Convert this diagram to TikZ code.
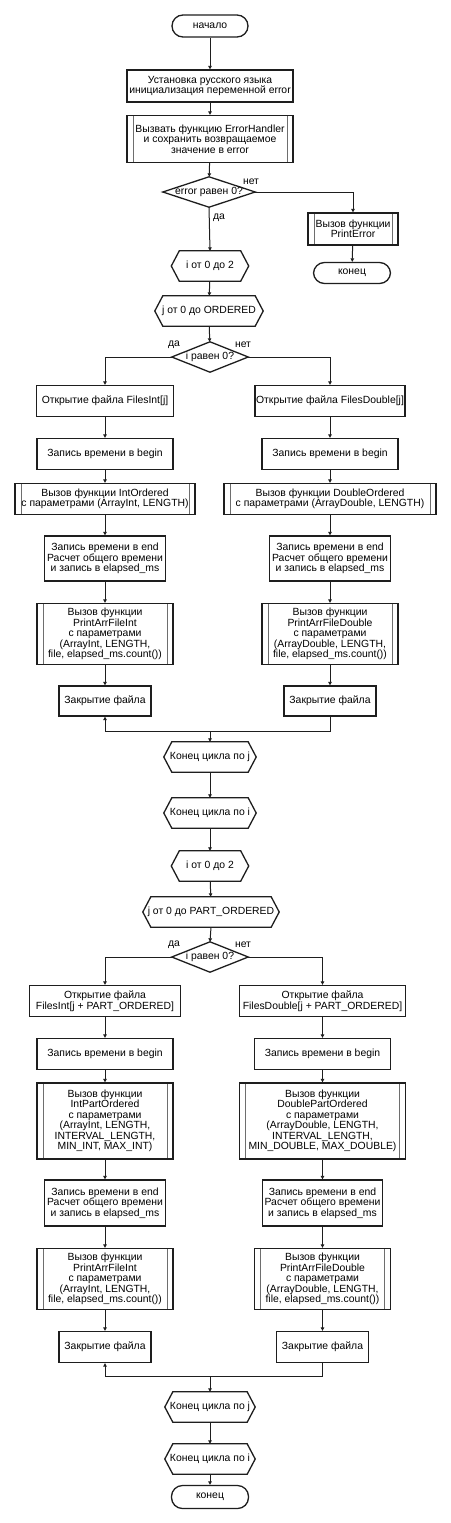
\documentclass[tikz,border=0pt]{standalone}
\usepackage{fontspec}
\setmainfont{Liberation Sans}
\usetikzlibrary{arrows.meta}
\definecolor{FrameGray}{RGB}{30, 30, 30}
\definecolor{InnerGray}{RGB}{110, 110, 110}

% loop limit box: #1 name #2 where #3 width #4 text
\def\hexbox#1#2#3#4{
  \node[boxtext, minimum width=#3, minimum height=30] (#1) at (#2) {#4};
  \draw[frame] ([xshift=8pt]#1.north west) -- ([xshift=-8pt]#1.north east) -- (#1.east) -- ([xshift=-8pt]#1.south east) -- ([xshift=8pt]#1.south west) -- (#1.west) -- cycle;
}
% decision: #1 name #2 where #3 width #4 text
\def\decide#1#2#3#4{
  \node[boxtext, minimum width=#3, minimum height=30] (#1) at (#2) {#4};
  \draw[frame] (#1.north) -- (#1.east) -- (#1.south) -- (#1.west) -- cycle;
}

\begin{document}
\begin{tikzpicture}[x=1pt, y=1pt,
  boxtext/.style={inner sep=0pt, align=center, font=\fontsize{10.4}{10.5}\selectfont},
  frame/.style={draw=FrameGray, line width=1.3pt},
  proc/.style={boxtext, frame, fill=white},
  sub/.style={proc, path picture={
    \draw[InnerGray, line width=0.9pt] ([xshift=6pt]path picture bounding box.north west) -- ([xshift=6pt]path picture bounding box.south west);
    \draw[InnerGray, line width=0.9pt] ([xshift=-6pt]path picture bounding box.north east) -- ([xshift=-6pt]path picture bounding box.south east);}},
  term/.style={proc, rounded corners=11pt},
  line/.style={FrameGray, line width=1pt},
  arr/.style={line, -{Triangle[length=3.5pt, width=3.5pt]}},
  lbl/.style={inner sep=0pt, font=\fontsize{10.4}{10.5}\selectfont}]

\useasboundingbox[fill=white] (0,0) rectangle (450,-1523);

% start and error check
\node[term, minimum width=76, minimum height=22] (start) at (210,-26) {начало};
\node[proc, minimum width=166, minimum height=32] (init) at (210,-86) {Установка русского языка\\инициализация переменной error};
\node[sub, minimum width=166, minimum height=47] (handler) at (210,-139) {Вызвать функцию ErrorHandler\\и сохранить возвращаемое\\значение в error};
\decide{errchk}{209,-192}{92}{error равен 0?}
\node[sub, minimum width=90, minimum height=32] (printerr) at (353,-229) {Вызов функции\\PrintError};
\node[term, minimum width=77, minimum height=21] (stop1) at (352,-273) {конец};

% first pair of loops
\hexbox{iloop1}{210,-266}{77}{i от 0 до 2}
\hexbox{jloop1}{209,-311}{108}{j от 0 до ORDERED}
\decide{ichk1}{210,-357}{76}{i равен 0?}

% ordered, left branch
\node[proc, minimum width=137, minimum height=31] (openL1) at (105,-401) {Открытие файла FilesInt[j]};
\node[proc, minimum width=136, minimum height=31] (beginL1) at (105,-454) {Запись времени в begin};
\node[sub, minimum width=180, minimum height=31] (sortL1) at (105,-499) {Вызов функции IntOrdered\\с параметрами (ArrayInt, LENGTH)};
\node[proc, minimum width=121, minimum height=45] (endL1) at (105,-558.5) {Запись времени в end\\Расчет общего времени\\и запись в elapsed\_ms};
\node[sub, minimum width=136, minimum height=61] (printL1) at (105,-634) {Вызов функции\\PrintArrFileInt\\с параметрами\\(ArrayInt, LENGTH,\\file, elapsed\_ms.count())};
\node[proc, minimum width=92, minimum height=30] (closeL1) at (105,-701) {Закрытие файла};

% ordered, right branch
\node[proc, minimum width=150, minimum height=31] (openR1) at (330,-401) {Открытие файла FilesDouble[j]};
\node[proc, minimum width=136, minimum height=31] (beginR1) at (330,-454) {Запись времени в begin};
\node[sub, minimum width=212, minimum height=31] (sortR1) at (330,-499) {Вызов функции DoubleOrdered\\с параметрами (ArrayDouble, LENGTH)};
\node[proc, minimum width=121, minimum height=45] (endR1) at (330,-558.5) {Запись времени в end\\Расчет общего времени\\и запись в elapsed\_ms};
\node[sub, minimum width=136, minimum height=61] (printR1) at (330,-634) {Вызов функции\\PrintArrFileDouble\\с параметрами\\(ArrayDouble, LENGTH,\\file, elapsed\_ms.count())};
\node[proc, minimum width=92, minimum height=30] (closeR1) at (330,-701) {Закрытие файла};

\coordinate (merge1) at (210,-731.5);
\hexbox{jend1}{210,-757}{92}{Конец цикла по j}
\hexbox{iend1}{210,-813}{92}{Конец цикла по i}

% second pair of loops
\hexbox{iloop2}{210,-866}{77}{i от 0 до 2}
\hexbox{jloop2}{211,-912}{136}{j от 0 до PART\_ORDERED}
\decide{ichk2}{210,-957}{76}{i равен 0?}

% part ordered, left branch
\node[proc, minimum width=151, minimum height=31] (openL2) at (105,-1001) {Открытие файла\\FilesInt[j + PART\_ORDERED]};
\node[proc, minimum width=136, minimum height=31] (beginL2) at (105,-1054) {Запись времени в begin};
\node[sub, minimum width=136, minimum height=76] (sortL2) at (105,-1121) {Вызов функции\\IntPartOrdered\\с параметрами\\(ArrayInt, LENGTH,\\INTERVAL\_LENGTH,\\MIN\_INT, MAX\_INT)};
\node[proc, minimum width=121, minimum height=46] (endL2) at (105,-1203) {Запись времени в end\\Расчет общего времени\\и запись в elapsed\_ms};
\node[sub, minimum width=136, minimum height=61] (printL2) at (105,-1279) {Вызов функции\\PrintArrFileInt\\с параметрами\\(ArrayInt, LENGTH,\\file, elapsed\_ms.count())};
\node[proc, minimum width=92, minimum height=31] (closeL2) at (105,-1347) {Закрытие файла};

% part ordered, right branch
\node[proc, minimum width=166, minimum height=31] (openR2) at (322.5,-1001) {Открытие файла\\FilesDouble[j + PART\_ORDERED]};
\node[proc, minimum width=136, minimum height=31] (beginR2) at (322.5,-1054) {Запись времени в begin};
\node[sub, minimum width=166, minimum height=76] (sortR2) at (322.5,-1121) {Вызов функции\\DoublePartOrdered\\с параметрами\\(ArrayDouble, LENGTH,\\INTERVAL\_LENGTH,\\MIN\_DOUBLE, MAX\_DOUBLE)};
\node[proc, minimum width=120, minimum height=46] (endR2) at (322.5,-1203) {Запись времени в end\\Расчет общего времени\\и запись в elapsed\_ms};
\node[sub, minimum width=136, minimum height=61] (printR2) at (322.5,-1279) {Вызов функции\\PrintArrFileDouble\\с параметрами\\(ArrayDouble, LENGTH,\\file, elapsed\_ms.count())};
\node[proc, minimum width=92, minimum height=31] (closeR2) at (322.5,-1347) {Закрытие файла};

\coordinate (merge2) at (210,-1376);
\hexbox{jend2}{210,-1407}{90}{Конец цикла по j}
\hexbox{iend2}{210,-1459}{90}{Конец цикла по i}
\node[term, minimum width=77, minimum height=23] (stop2) at (210,-1497) {конец};

% branch labels
\node[lbl] (no0) at (251,-181.5) {нет};
\node[lbl] (yes0) at (219,-218) {да};
\node[lbl] (yes1) at (174,-345) {да};
\node[lbl] (no1) at (243,-345) {нет};
\node[lbl] (yes2) at (174,-945) {да};
\node[lbl] (no2) at (243,-945) {нет};

% connectors
\draw[arr] (start) -- (init);
\draw[arr] (init) -- (handler);
\draw[arr] (handler) -- (errchk);
\draw[arr] (errchk.south) -- (iloop1.north);
\draw[arr] (errchk.east) -| (printerr.north);
\draw[arr] (printerr) -- (stop1);
\draw[arr] (iloop1) -- (jloop1);
\draw[arr] (jloop1) -- (ichk1);
\draw[arr] (ichk1.west) -| (openL1.north);
\draw[arr] (ichk1.east) -| (openR1.north);
\foreach \a/\b in {openL1/beginL1, beginL1/sortL1, sortL1/endL1, endL1/printL1, printL1/closeL1,
                   openR1/beginR1, beginR1/sortR1, sortR1/endR1, endR1/printR1, printR1/closeR1}
  \draw[arr] (\a) -- (\b);
\draw[line] (closeR1.south) |- (merge1);
\draw[arr] (merge1) -| (closeL1.south);
\draw[arr] (merge1) -- (jend1.north);
\draw[arr] (jend1) -- (iend1);
\draw[arr] (iend1) -- (iloop2);
\draw[arr] (iloop2) -- (jloop2);
\draw[arr] (jloop2.south) -- (ichk2.north);
\draw[arr] (ichk2.west) -| (openL2.north);
\draw[arr] (ichk2.east) -| (openR2.north);
\foreach \a/\b in {openL2/beginL2, beginL2/sortL2, sortL2/endL2, endL2/printL2, printL2/closeL2,
                   openR2/beginR2, beginR2/sortR2, sortR2/endR2, endR2/printR2, printR2/closeR2}
  \draw[arr] (\a) -- (\b);
\draw[line] (closeR2.south) |- (merge2);
\draw[arr] (merge2) -| (closeL2.south);
\draw[arr] (merge2) -- (jend2.north);
\draw[arr] (jend2) -- (iend2);
\draw[arr] (iend2) -- (stop2);

\end{tikzpicture}
\end{document}
